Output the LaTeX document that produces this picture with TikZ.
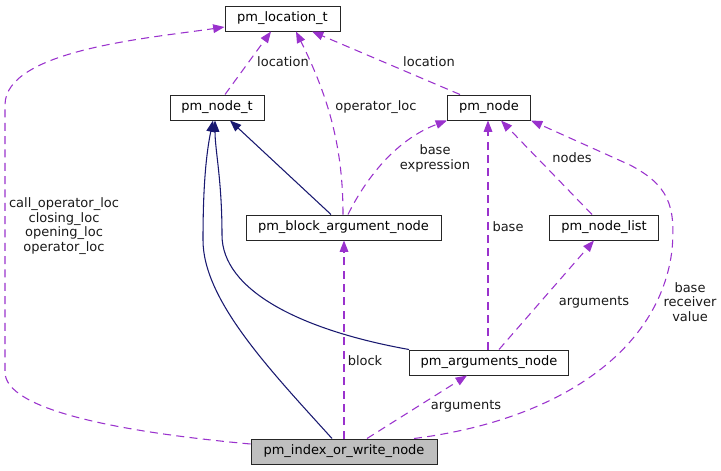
\documentclass[tikz,border=0pt]{standalone}
\usepackage{fontspec}
\setmainfont{DejaVu Sans}
\usetikzlibrary{arrows.meta}
\definecolor{edgepurple}{HTML}{9A32CD}
\definecolor{edgenavy}{HTML}{191970}
\newcommand\px{*0.75pt}
\begin{document}
\begin{tikzpicture}[x=0.75pt,y=-0.75pt,
  font=\fontsize{9.75}{11}\selectfont,
  cls/.style={draw=black!85,line width=0.75pt,fill=white,inner sep=0pt,minimum height=18.75pt},
  usage/.style={draw=edgepurple,line width=0.8pt,dash pattern=on 6pt off 4pt,
    -{Triangle[length=8.5pt,width=6.5pt]}},
  inherit/.style={draw=edgenavy,line width=0.8pt,
    -{Triangle[length=8.5pt,width=6.5pt]}},
  lbl/.style={inner sep=0pt,align=center,text=black!90}]
\useasboundingbox (0,0) rectangle (721,471);

% classes
\node[cls,minimum width=86.25pt] (loc) at (282.5,18.5) {pm\_location\_t};
\node[cls,minimum width=70.5pt] (nt) at (217,107.5) {pm\_node\_t};
\node[cls,minimum width=62.25pt] (pn) at (489,107.5) {pm\_node};
\node[cls,minimum width=146.25pt] (ba) at (343.5,227.5) {pm\_block\_argument\_node};
\node[cls,minimum width=81.75pt] (nl) at (604,227.5) {pm\_node\_list};
\node[cls,minimum width=119.25pt] (an) at (489,362.5) {pm\_arguments\_node};
\node[cls,minimum width=139.5pt,fill=black!25] (iw) at (344,451.5) {pm\_index\_or\_write\_node};

% inheritance edges
\draw[inherit] ([xshift=-12.5\px]ba.north) -- ([xshift=13\px]nt.south);
\draw[inherit] ([xshift=-12\px]iw.north) .. controls (270,370) and (203,300) .. (203,240)
  .. controls (203,180) and (207,150) .. ([xshift=-4\px]nt.south);
\draw[inherit] (an.north west) .. controls (300,330) and (222,290) .. (222,235)
  .. controls (222,180) and (215,150) .. ([xshift=-2\px]nt.south);

% usage edges
\draw[usage] ([xshift=8\px]nt.north) -- ([xshift=-11.5\px]loc.south);
\draw[usage] ([xshift=-0.5\px]ba.north) .. controls (343,150) and (330,100) .. ([xshift=13.5\px]loc.south);
\draw[usage] ([xshift=-29\px]pn.north) -- ([xshift=29.5\px]loc.south);
\draw[usage] ([yshift=7.5\px]iw.west) .. controls (120,432) and (5,410) .. (5,372)
  -- (5,105) .. controls (5,50) and (150,38) .. ([yshift=-8.5\px]loc.west);
\draw[usage] ([xshift=4.5\px]ba.north) .. controls (365,180) and (395,140) .. (pn.south west);
\draw[usage] ([xshift=-1\px]an.north) -- ([xshift=-1\px]pn.south);
\draw[usage] ([xshift=-12\px]nl.north) -- ([xshift=12\px]pn.south);
\draw[usage] ([xshift=10\px]an.north) -- ([xshift=-10\px]nl.south);
\draw[usage] ([xshift=23\px]iw.north) -- ([xshift=-22\px]an.south);
\draw[usage] (iw.north) -- ([xshift=0.5\px]ba.south);
\draw[usage] ([xshift=70\px]iw.north) .. controls (560,420) and (660,350) .. (672,250)
  .. controls (676,205) and (668,185) .. (630,165) -- (pn.south east);

% labels
\node[lbl] (l1) at (283,62) {location};
\node[lbl] (l2) at (376,107) {operator\_loc};
\node[lbl] (l3) at (429,62) {location};
\node[lbl] (l4) at (64,226) {call\_operator\_loc\\closing\_loc\\opening\_loc\\operator\_loc};
\node[lbl] (l5) at (435,158.5) {base\\expression};
\node[lbl] (l6) at (508,227) {base};
\node[lbl] (l7) at (572,158) {nodes};
\node[lbl] (l8) at (594,302) {arguments};
\node[lbl] (l9) at (466,406) {arguments};
\node[lbl] (l10) at (365,361) {block};
\node[lbl] (l11) at (690,302) {base\\receiver\\value};
\end{tikzpicture}
\end{document}
